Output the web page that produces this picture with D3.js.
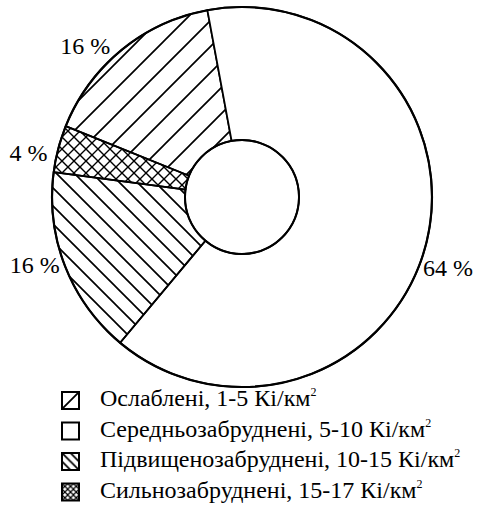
<!DOCTYPE html>
<html>
<head>
<meta charset="utf-8">
<script src="https://cdn.jsdelivr.net/npm/d3@7"></script>
<style>
  body { margin: 0; background: #fff; }
  svg { display: block; font-family: "Liberation Serif", "Times New Roman", serif; }
</style>
</head>
<body>
<svg id="chart" width="477" height="522"></svg>
<script>
// legend order
const categories = ["Ослаблені, 1-5 Кі/км", "Середньозабруднені, 5-10 Кі/км", "Підвищенозабруднені, 10-15 Кі/км", "Сильнозабруднені, 15-17 Кі/км"];
const values = [16, 64, 16, 4];
const valueLabels = ["16 %", "64 %", "16 %", "4 %"];
const fills = ["slash", "none", "backslash", "cross"];

const width = 477, height = 522;
const cx = 242, cy = 197;
const outerR = 190, innerR = 57;
const startDeg = -68.1;
const labelR = 218;
const labelShiftDeg = [-6.7, 4.3, 3.2, -3]; // small hand nudges like the original
const rad = d => d * Math.PI / 180;

const svg = d3.select("#chart");
svg.append("rect").attr("width", width).attr("height", height).attr("fill", "#fff");

const defs = svg.append("defs");

// hatch patterns
function hatch(id, size, dirs, sw) {
  const p = defs.append("pattern")
    .attr("id", id)
    .attr("patternUnits", "userSpaceOnUse")
    .attr("width", size).attr("height", size);
  const s = size;
  dirs.forEach(dir => {
    let d;
    if (dir === "/") {
      d = `M${-s/2},${s/2}L${s/2},${-s/2}M0,${s}L${s},0M${s/2},${s*1.5}L${s*1.5},${s/2}`;
    } else {
      d = `M${-s/2},${s/2}L${s/2},${s*1.5}M0,0L${s},${s}M${s/2},${-s/2}L${s*1.5},${s/2}`;
    }
    p.append("path").attr("d", d).attr("stroke", "#000").attr("stroke-width", sw).attr("fill", "none");
  });
}
hatch("slash", 26, ["/"], 1.7);
hatch("backslash", 18, ["\\"], 1.7);
hatch("cross", 12, ["/", "\\"], 1.4);
// legend swatches (smaller spacing, aligned to the box)
hatch("slash-l", 17, ["/"], 1.8);
hatch("backslash-l", 8.5, ["\\"], 1.8);
hatch("cross-l", 5.7, ["/", "\\"], 1.2);

const pie = d3.pie()
  .sort(null)
  .value(d => d)
  .startAngle(rad(startDeg))
  .endAngle(rad(startDeg) + 2 * Math.PI);

const arcs = pie(values);

const arc = d3.arc().innerRadius(innerR).outerRadius(outerR);

const g = svg.append("g").attr("transform", `translate(${cx},${cy})`);

g.selectAll("path.slice")
  .data(arcs)
  .enter().append("path")
  .attr("class", "slice")
  .attr("d", arc)
  .attr("fill", (d, i) => fills[i] === "none" ? "#fff" : `url(#${fills[i]})`)
  .attr("stroke", "#000")
  .attr("stroke-width", 1.8)
  .attr("stroke-linejoin", "round");

// outer and inner rims
g.append("circle").attr("r", outerR).attr("fill", "none").attr("stroke", "#000").attr("stroke-width", 2.2);
g.append("circle").attr("r", innerR).attr("fill", "none").attr("stroke", "#000").attr("stroke-width", 2);

// percentage labels
g.selectAll("text.pct")
  .data(arcs)
  .enter().append("text")
  .attr("class", "pct")
  .attr("x", (d, i) => {
    const a = (d.startAngle + d.endAngle) / 2 + rad(labelShiftDeg[i]);
    return labelR * Math.sin(a);
  })
  .attr("y", (d, i) => {
    const a = (d.startAngle + d.endAngle) / 2 + rad(labelShiftDeg[i]);
    return -labelR * Math.cos(a);
  })
  .attr("dy", "0.35em")
  .attr("text-anchor", "middle")
  .attr("font-size", 24)
  .text((d, i) => valueLabels[i]);

// legend
const legendY = d3.scaleLinear().domain([0, 1]).range([392, 422.5]);
const legend = svg.append("g");
const rows = legend.selectAll("g.row")
  .data(categories)
  .enter().append("g")
  .attr("class", "row")
  .attr("transform", (d, i) => `translate(62,${legendY(i)})`);

rows.append("rect")
  .attr("width", 17).attr("height", 17)
  .attr("fill", (d, i) => fills[i] === "none" ? "#fff" : `url(#${fills[i]}-l)`)
  .attr("stroke", "#000")
  .attr("stroke-width", 2);

const txt = rows.append("text")
  .attr("x", 38)
  .attr("y", 14)
  .attr("font-size", 24);
txt.append("tspan").text(d => d);
txt.append("tspan").attr("font-size", 12).attr("dy", -10).text("2");
</script>
</body>
</html>
